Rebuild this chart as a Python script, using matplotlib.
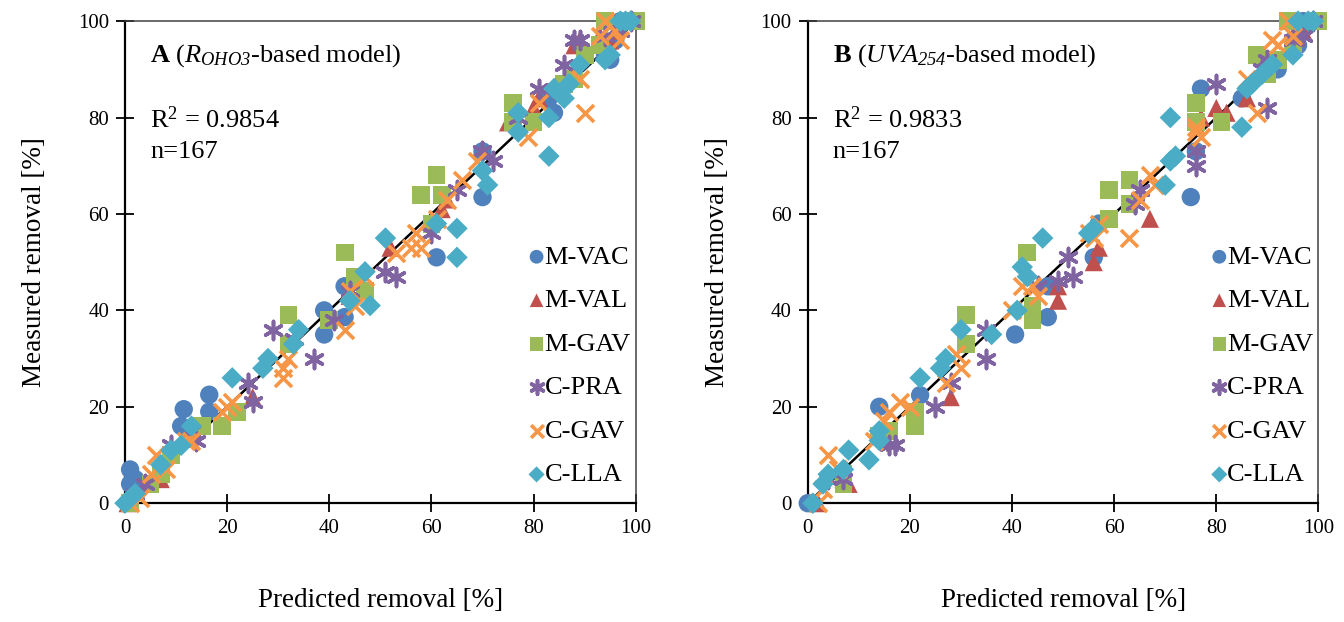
"""Predicted vs measured removal, two model variants side by side."""
import matplotlib

matplotlib.use("Agg")
import matplotlib.pyplot as plt

plt.rcParams["font.family"] = ["Liberation Serif", "DejaVu Serif"]
plt.rcParams["mathtext.fontset"] = "custom"
plt.rcParams["mathtext.rm"] = "Liberation Serif"
plt.rcParams["mathtext.it"] = "Liberation Serif:italic"
plt.rcParams["mathtext.bf"] = "Liberation Serif:bold"
# used for the italic subscripts (digits included)
plt.rcParams["mathtext.sf"] = "Liberation Serif:italic"

SERIES = ["M-VAC", "M-VAL", "M-GAV", "C-PRA", "C-GAV", "C-LLA"]
COLOURS = ["#4F81BD", "#C0504D", "#9BBB59", "#8064A2", "#F79646", "#4BACC6"]
MARKERS = ["o", "^", "s", (6, 2, 0), "x", "D"]
SIZES = [175, 170, 165, 170, 150, 120]

# panel A (R_OHO3-based model): (predicted, measured)
a_mvac = [(1, 7), (2, 5), (1, 4), (11.5, 19.5), (16.5, 22.5), (16.5, 19), (11, 16),
          (39, 35), (39, 40), (43, 45), (43, 38.6), (61, 51), (70, 73), (70, 63.5),
          (83, 84), (84, 81), (94, 93), (95, 92), (96, 96), (97, 100), (99, 100)]
a_mval = [(0.5, 0), (7, 5), (25, 22), (44, 43), (52, 53), (63, 63), (62, 61), (75, 79),
          (76, 80), (80, 82), (81, 84), (88, 95), (89, 96), (95, 96), (96, 98), (93, 97)]
a_mgav = [(1, 0), (5, 4), (7, 6), (9, 10), (15, 16), (19, 16), (22, 19), (32, 39),
          (32, 33), (40, 38), (43, 52), (45, 47), (47, 44), (58, 64), (61, 68), (62, 64),
          (60, 58), (76, 83), (76, 79), (80, 79), (86, 87), (88, 88), (90, 93), (94, 100),
          (93, 95), (100, 100)]
a_cpra = [(2, 2), (4, 4), (9, 12), (13, 15), (14, 13), (25, 21), (24, 25), (29, 36),
          (33, 34), (37, 30), (41, 38), (44, 44), (51, 48), (53, 47), (60, 56), (65, 65),
          (70, 73), (72, 71), (77, 80), (81, 86), (84, 86), (86, 91), (88, 96), (89, 96),
          (94, 97), (97, 98), (99, 100)]
a_cgav = [(1, 0), (3, 1), (5, 6), (6, 10), (8, 7), (12, 13), (13, 13), (19, 19), (20, 20),
          (21, 21), (31, 26), (31, 28), (32, 30), (43, 36), (44, 44), (45, 41), (47, 47),
          (53, 52), (57, 56), (56, 53), (58, 53), (61, 59), (63, 63), (66, 67), (69, 71),
          (79, 76), (81, 83), (89, 88), (90, 81), (93, 97), (96, 98), (94, 100), (97, 96)]
a_clla = [(0, 0), (1, 1), (2, 2), (7, 8), (9, 11), (11, 12), (13, 16), (21, 26), (27, 28),
          (28, 30), (33, 33), (34, 36), (44, 42), (47, 48), (48, 41), (51, 55), (61, 58),
          (65, 57), (65, 51), (70, 69), (71, 66), (77, 77), (77, 81), (83, 72), (83, 80),
          (84, 86), (86, 84), (87, 87), (89, 91), (94, 92), (95, 93), (97, 100), (98, 100),
          (99, 100)]

# panel B (UVA254-based model)
b_mvac = [(0, 0), (1, 0), (14, 20), (22, 22.4), (40.6, 35), (47, 38.6), (47, 45),
          (56, 51), (57, 58), (75, 63.5), (77, 86), (76, 73), (85, 84), (90, 92),
          (92, 90), (95, 96), (97, 100), (99, 100), (96, 95)]
b_mval = [(2, 0), (7, 5), (8, 4), (28, 22), (49, 45), (49, 42), (56, 50), (57, 53),
          (67, 59), (77, 80), (80, 82), (82, 81), (86, 84), (95, 97), (97, 98)]
b_mgav = [(7, 4), (7, 6), (14, 14), (16, 15), (21, 16), (21, 19), (31, 39), (31, 33),
          (43, 52), (44, 38), (44, 41), (59, 65), (59, 59), (63, 67), (63, 62), (76, 83),
          (76, 79), (81, 79), (88, 93), (90, 89), (92, 92), (94, 100), (100, 100), (95, 95)]
b_cpra = [(4, 5), (7, 5), (16, 12), (17, 12), (25, 20), (28, 25), (35, 30), (35, 36),
          (45, 45), (49, 46), (51, 51), (52, 47), (64, 62), (65, 65), (76, 73), (76, 70),
          (80, 87), (89, 90), (90, 92), (90, 82), (95, 96), (97, 97), (99, 100)]
b_cgav = [(2, 0), (3, 3), (4, 10), (6, 7), (13, 13), (15, 17), (16, 19), (18, 21),
          (20, 20), (27, 25), (29, 31), (30, 28), (40, 40), (42, 45), (44, 45), (45, 43),
          (55, 56), (56, 55), (57, 58), (63, 55), (65, 63), (67, 68), (68, 66), (76, 78),
          (76, 77), (77, 76), (86, 88), (88, 81), (91, 96), (92, 95), (94, 100), (95, 97)]
b_clla = [(1, 0), (3, 4), (4, 6), (7, 7), (8, 11), (12, 9), (14, 13), (14, 15), (22, 26),
          (26, 28), (27, 30), (30, 36), (36, 35), (41, 40), (42, 49), (46, 55), (43, 47),
          (55, 56), (56, 57), (70, 66), (71, 71), (72, 72), (71, 80), (85, 78), (86, 86),
          (87, 87), (89, 89), (91, 91), (95, 93), (96, 100), (98, 100), (99, 100)]

PANELS = [
    (r"$\mathbf{A}$ ($R_{\mathsf{OHO3}}$-based model)", "0.9854",
     [a_mvac, a_mval, a_mgav, a_cpra, a_cgav, a_clla]),
    (r"$\mathbf{B}$ ($UVA_{\mathsf{254}}$-based model)", "0.9833",
     [b_mvac, b_mval, b_mgav, b_cpra, b_cgav, b_clla]),
]
TICKS = [0, 20, 40, 60, 80, 100]


def draw_panel(ax, title, r2, data):
    ax.plot([0, 100], [0, 100], color="black", lw=1.8, zorder=1)
    for name, pts, col, mk, sz in zip(SERIES, data, COLOURS, MARKERS, SIZES):
        xs = [p[0] for p in pts]
        ys = [p[1] for p in pts]
        if mk == "x" or isinstance(mk, tuple):
            ax.scatter(xs, ys, marker=mk, s=sz, color=col, linewidths=2.6,
                       label=name, clip_on=False, zorder=3)
        else:
            ax.scatter(xs, ys, marker=mk, s=sz, color=col, edgecolors="none",
                       label=name, clip_on=False, zorder=3)
    ax.set_xlim(0, 100)
    ax.set_ylim(0, 100)
    ax.set_xticks(TICKS)
    ax.set_yticks(TICKS)
    ax.tick_params(direction="inout", length=13, width=1.3, labelsize=15, pad=5)
    for side in ("left", "bottom"):
        ax.spines[side].set_linewidth(1.6)
    for side in ("top", "right"):
        ax.spines[side].set_linewidth(1.1)
        ax.spines[side].set_color("#404040")
    ax.set_xlabel("Predicted removal [%]", fontsize=19.5, labelpad=36)
    ax.set_ylabel("Measured removal [%]", fontsize=19.5, labelpad=22)
    ax.text(0.049, 0.929, title, transform=ax.transAxes, fontsize=19, va="center")
    ax.text(0.049, 0.795, r"R$^2$ = " + r2, transform=ax.transAxes, fontsize=19,
            va="center")
    ax.text(0.049, 0.728, "n=167", transform=ax.transAxes, fontsize=19, va="center")
    ax.legend(loc="lower right", bbox_to_anchor=(0.99, 0.035), frameon=False,
              fontsize=19, labelspacing=0.76, handletextpad=-0.2, markerscale=0.75,
              handlelength=1.0, borderaxespad=0.0, borderpad=0.0)


fig = plt.figure(figsize=(13.44, 6.22), dpi=100)
ax_a = fig.add_axes([0.093, 0.191, 0.380, 0.775])
ax_b = fig.add_axes([0.601, 0.191, 0.380, 0.775])
for ax, (title, r2, data) in zip([ax_a, ax_b], PANELS):
    draw_panel(ax, title, r2, data)

fig.savefig("out.png", dpi=100)
